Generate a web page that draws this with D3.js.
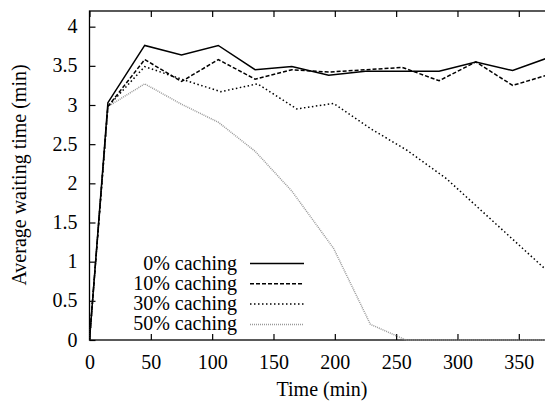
<!DOCTYPE html>
<html>
<head>
<meta charset="utf-8">
<script src="https://cdn.jsdelivr.net/npm/d3@7"></script>
<style>
  body { margin: 0; background: #fff; }
</style>
</head>
<body>
<script>

// sample times (min) and average waiting times (min)
const times0 = [0, 15, 45, 75, 105, 135, 165, 195, 225, 255, 285, 315, 345, 375];
const caching0 = [0, 3.03, 3.76, 3.64, 3.76, 3.45, 3.49, 3.38, 3.43, 3.43, 3.43, 3.55, 3.44, 3.61];
const caching10 = [0, 2.98, 3.58, 3.30, 3.58, 3.33, 3.45, 3.42, 3.45, 3.48, 3.31, 3.55, 3.25, 3.39];

const times30 = [0, 15, 45, 75, 107, 137, 169, 199, 229, 259, 291, 321, 351, 381];
const caching30 = [0, 2.98, 3.49, 3.33, 3.17, 3.27, 2.95, 3.02, 2.70, 2.42, 2.06, 1.63, 1.20, 0.77];

const times50 = [0, 15, 45, 75, 105, 135, 165, 199, 229, 258, 290, 320, 350, 380];
const caching50 = [0, 2.98, 3.27, 3.01, 2.78, 2.41, 1.90, 1.17, 0.20, 0, 0, 0, 0, 0];

const seriesNames = ["0% caching", "10% caching", "30% caching", "50% caching"];

const xTicks = [0, 50, 100, 150, 200, 250, 300, 350];
const yTicks = [0, 0.5, 1, 1.5, 2, 2.5, 3, 3.5, 4];

const w = 545, h = 401;
const margin = ({top: 11, left: 89.5, bottom: 340, right: 555.6});
const font = "Liberation Serif";

const svg = d3.select("body")
    .append("svg")
    .attr("width", w)
    .attr("height", h)
    .attr("font-family", font)
    .attr("font-size", 20);

let x = d3.scaleLinear()
    .domain([0, 380])
    .range([margin.left, margin.right]);

let y = d3.scaleLinear()
    .domain([0, 4.2])
    .range([margin.bottom, margin.top]);

const series = [
    {name: seriesNames[0], t: times0, v: caching0, color: "#000", dash: null, width: 1.5},
    {name: seriesNames[1], t: times0, v: caching10, color: "#000", dash: "4,2", width: 1.5},
    {name: seriesNames[2], t: times30, v: caching30, color: "#000", dash: "1.5,2.5", width: 1.5},
    {name: seriesNames[3], t: times50, v: caching50, color: "#999", dash: "1,1", width: 1.5}
];

let line = d3.line()
    .x(d => x(d[0]))
    .y(d => y(d[1]));

svg.append("clipPath")
    .attr("id", "plot")
    .append("rect")
    .attr("x", margin.left)
    .attr("y", margin.top)
    .attr("width", margin.right - margin.left)
    .attr("height", margin.bottom - margin.top + 2);

// border with inward ticks, mirrored at top
svg.append("rect")
    .attr("x", margin.left)
    .attr("y", margin.top)
    .attr("width", margin.right - margin.left)
    .attr("height", margin.bottom - margin.top)
    .attr("fill", "none")
    .attr("stroke", "#000")
    .attr("stroke-width", 1.3);

let xAxis = d3.axisBottom(x).tickValues(xTicks).tickSize(-6).tickPadding(12);
let xAxisTop = d3.axisTop(x).tickValues(xTicks).tickSize(-6).tickFormat("");
let yAxis = d3.axisLeft(y).tickValues(yTicks).tickSize(-6).tickPadding(12).tickFormat(d3.format("~g"));

const gx = svg.append("g")
    .attr("transform", `translate(0,${margin.bottom})`)
    .call(xAxis);
const gxt = svg.append("g")
    .attr("transform", `translate(0,${margin.top})`)
    .call(xAxisTop);
const gy = svg.append("g")
    .attr("transform", `translate(${margin.left},0)`)
    .call(yAxis);

[gx, gxt, gy].forEach(g => {
    g.attr("font-family", font).attr("font-size", 20);
    g.select(".domain").remove();
    g.selectAll(".tick line").attr("stroke", "#000").attr("stroke-width", 1.2);
    g.selectAll(".tick text").attr("fill", "#000");
});
gx.selectAll(".tick text").attr("dy", "0.71em").attr("y", 15);
gy.selectAll(".tick text").attr("dy", "0.3em").attr("x", -12);

// series lines
const plot = svg.append("g").attr("clip-path", "url(#plot)");
series.slice().reverse().forEach(s => {
    plot.append("path")
        .datum(d3.zip(s.t, s.v))
        .attr("fill", "none")
        .attr("stroke", s.color)
        .attr("stroke-width", s.width)
        .attr("stroke-dasharray", s.dash)
        .attr("d", line);
});

// legend
const legend = svg.append("g");
series.forEach((s, i) => {
    const ly = 263.5 + i * 20.3;
    legend.append("text")
        .attr("x", 237)
        .attr("y", ly + 6)
        .attr("text-anchor", "end")
        .text(s.name);
    legend.append("line")
        .attr("x1", 250)
        .attr("x2", 304)
        .attr("y1", ly)
        .attr("y2", ly)
        .attr("stroke", s.color)
        .attr("stroke-width", s.width)
        .attr("stroke-dasharray", s.dash);
});

// axis titles
svg.append("text")
    .attr("x", 322)
    .attr("y", 396)
    .attr("text-anchor", "middle")
    .text("Time (min)");

svg.append("text")
    .attr("transform", `translate(26,175) rotate(-90)`)
    .attr("text-anchor", "middle")
    .text("Average waiting time (min)");

</script>
</body>
</html>
